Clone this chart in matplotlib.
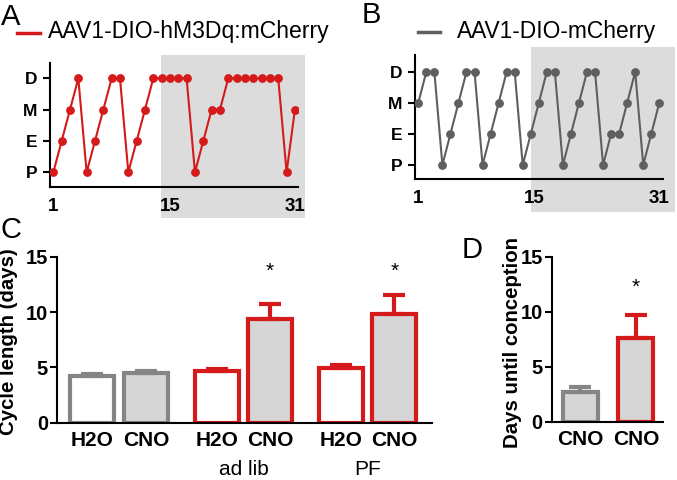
import matplotlib
matplotlib.use('Agg')
import matplotlib.pyplot as plt
from matplotlib.patches import Rectangle

plt.rcParams['font.family'] = ['Liberation Sans', 'DejaVu Sans']

# ---------------- data ----------------
stage_order = ['P', 'E', 'M', 'D']
a_days = list(range(1, 31))
a_stages = ['P', 'E', 'M', 'D', 'P', 'E', 'M', 'D', 'D', 'P', 'E', 'M', 'D', 'D', 'D',
            'D', 'D', 'P', 'E', 'M', 'M', 'D', 'D', 'D', 'D', 'D', 'D', 'D', 'P', 'M']
b_days = list(range(1, 32))
b_stages = ['M', 'D', 'D', 'P', 'E', 'M', 'D', 'D', 'P', 'E', 'M', 'D', 'D', 'P', 'E',
            'M', 'D', 'D', 'P', 'E', 'M', 'D', 'D', 'P', 'E', 'E', 'M', 'D', 'P', 'E', 'M']
day_tick_labels = ['1', '15', '31']
a_legend = 'AAV1-DIO-hM3Dq:mCherry'
b_legend = 'AAV1-DIO-mCherry'

c_labels = ['H2O', 'CNO', 'H2O', 'CNO', 'H2O', 'CNO']
c_means = [4.25, 4.5, 4.65, 9.4, 4.95, 9.85]
c_sem = [0.12, 0.15, 0.2, 1.3, 0.22, 1.7]
c_groups = ['', 'ad lib', 'PF']
c_signif = [False, False, False, True, False, True]

d_labels = ['CNO', 'CNO']
d_means = [2.7, 7.6]
d_sem = [0.5, 2.1]
d_signif = [False, True]

# ---------------- styles ----------------
RED = '#d41a1a'
GREY_EDGE = '#858585'
GREY_LINE = '#5f5f5f'
FILL = '#d6d6d6'
SHADE = '#dcdcdc'

W, H = 677, 480
fig = plt.figure(figsize=(W / 100, H / 100), dpi=100)


def add_ax(x0, y0, x1, y1):
    return fig.add_axes([x0 / W, 1 - y1 / H, (x1 - x0) / W, (y1 - y0) / H])


def fx(x):
    return x / W


def fy(y):
    return 1 - y / H


def style_axes(ax):
    for s in ['top', 'right']:
        ax.spines[s].set_visible(False)
    for s in ['left', 'bottom']:
        ax.spines[s].set_linewidth(1.5)
    ax.patch.set_visible(False)


# ---------------- panel A / B ----------------
def cycle_panel(rect, days, stages, color, xlim, ylim, shade_x, shade_y, tick_pos):
    ax = add_ax(*rect)
    style_axes(ax)
    yv = [stage_order.index(s) for s in stages]
    ax.plot(days, yv, color=color, lw=1.5, marker='o', ms=5.3, zorder=3)
    ax.set_xlim(*xlim)
    ax.set_ylim(*ylim)
    ax.add_patch(Rectangle((shade_x[0], shade_y[0]), shade_x[1] - shade_x[0],
                           shade_y[1] - shade_y[0], facecolor=SHADE, edgecolor='none',
                           clip_on=False, zorder=0))
    ax.set_yticks(range(len(stage_order)))
    ax.set_yticklabels(stage_order, fontweight='bold', fontsize=12.5)
    ax.tick_params(axis='y', length=5, width=1.5, pad=4)
    ax.set_xticks(tick_pos)
    ax.set_xticklabels(day_tick_labels, fontweight='bold', fontsize=13.5)
    ax.tick_params(axis='x', length=0, pad=8)
    return ax


cycle_panel((50, 63, 298, 187), a_days, a_stages, RED, (0.6, 30.37), (-0.47, 3.49),
            (13.9, 31.2), (-1.46, 3.74), [1, 15, 30])
cycle_panel((415, 55, 663, 179.3), b_days, b_stages, GREY_LINE, (0.59, 31.46), (-0.46, 3.54),
            (15.0, 32.9), (-1.51, 3.79), [1, 15.4, 31])

# legends / panel letters
fig.text(fx(1), fy(25), 'A', fontsize=21, va='baseline', ha='left')
fig.lines.append(plt.Line2D([fx(17), fx(40)], [fy(32.5), fy(32.5)], color=RED, lw=2.5,
                            transform=fig.transFigure))
fig.text(fx(48), fy(38), a_legend, fontsize=16.6, va='baseline', ha='left')

fig.text(fx(362), fy(23), 'B', fontsize=21, va='baseline', ha='left')
fig.lines.append(plt.Line2D([fx(418), fx(440)], [fy(32), fy(32)], color=GREY_LINE, lw=2.5,
                            transform=fig.transFigure))
fig.text(fx(457), fy(38), b_legend, fontsize=16.4, va='baseline', ha='left')

fig.text(fx(1), fy(238), 'C', fontsize=21, va='baseline', ha='left')
fig.text(fx(462), fy(258), 'D', fontsize=21, va='baseline', ha='left')


# ---------------- bar panels ----------------
def bar_panel(rect, pos, means, sem, labels, faces, edges, xlim, width, signif, star_y,
              ylabel, label_xy):
    ax = add_ax(*rect)
    style_axes(ax)
    ax.bar(pos, means, width=width, facecolor=faces, edgecolor=edges, linewidth=3, zorder=2)
    for p, m, s, e in zip(pos, means, sem, edges):
        ax.errorbar([p], [m], yerr=[[0], [s]], fmt='none', ecolor=e, elinewidth=3,
                    capsize=8, capthick=3, zorder=3)
    for p, sg in zip(pos, signif):
        if sg:
            ax.text(p, star_y, '*', ha='center', va='center', fontsize=15)
    ax.set_xlim(*xlim)
    ax.set_ylim(0, 15)
    ax.set_yticks([0, 5, 10, 15])
    ax.set_yticklabels(['0', '5', '10', '15'], fontweight='bold', fontsize=14.5)
    ax.tick_params(axis='y', length=5, width=1.5, pad=1.5)
    ax.set_xticks(pos)
    ax.set_xticklabels(labels, fontweight='bold', fontsize=15)
    ax.tick_params(axis='x', length=0, pad=6)
    ax.set_ylabel(ylabel, fontweight='bold', fontsize=14.7)
    ax.yaxis.set_label_coords(*label_xy)
    return ax


c_pos = [0, 1, 2.31, 3.3, 4.61, 5.6]
c_faces = ['white', FILL, 'white', FILL, 'white', FILL]
c_edges = [GREY_EDGE, GREY_EDGE, RED, RED, RED, RED]
axc = bar_panel((57, 256.7, 432, 422.7), c_pos, c_means, c_sem, c_labels, c_faces, c_edges,
                (-0.65, 6.3), 0.815, c_signif, 13.7, 'Cycle length (days)', (-0.103, 0.49))
for i, g in enumerate(c_groups):
    if g:
        xc = (c_pos[2 * i] + c_pos[2 * i + 1]) / 2
        axc.text(xc, fy(475), g, transform=matplotlib.transforms.blended_transform_factory(
            axc.transData, fig.transFigure), ha='center', va='baseline', fontsize=15)

d_pos = [0, 1]
bar_panel((551.7, 256.7, 663, 421.7), d_pos, d_means, d_sem, d_labels, [FILL, FILL],
          [GREY_EDGE, RED], (-0.52, 1.49), 0.63, d_signif, 12.2, 'Days until conception',
          (-0.27, 0.48))

fig.savefig('out.png', dpi=100)
